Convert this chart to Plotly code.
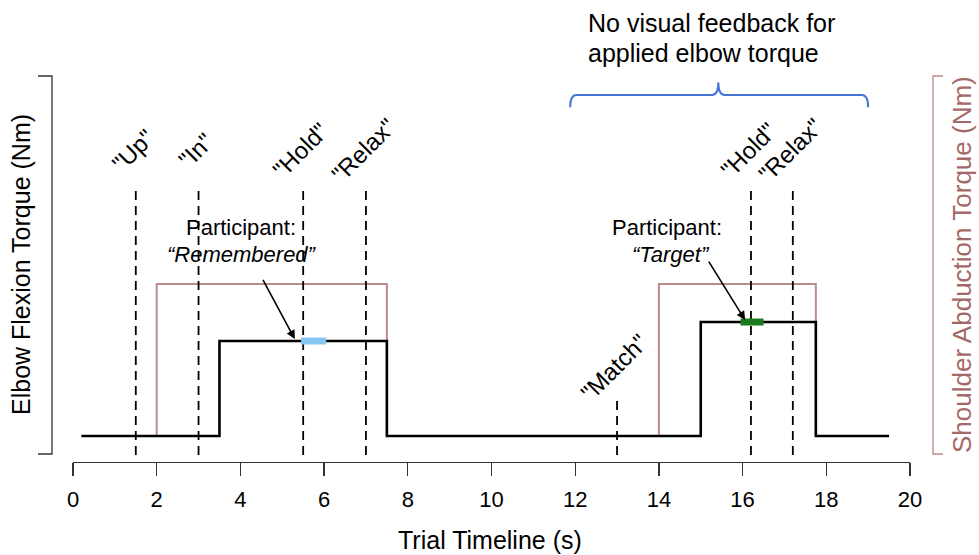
import plotly.graph_objects as go

# ---------------- data ----------------
elbow_x = [0.2, 3.5, 3.5, 7.5, 7.5, 15.0, 15.0, 17.75, 17.75, 19.5]
elbow_y = [0, 0, 5, 5, 0, 0, 6, 6, 0, 0]

shoulder1_x = [2.0, 2.0, 7.5, 7.5]
shoulder1_y = [0, 8, 8, 0]
shoulder2_x = [14.0, 14.0, 17.75, 17.75]
shoulder2_y = [0, 8, 8, 0]

remembered_x = [5.45, 6.05]
remembered_y = [5, 5]
target_x = [15.95, 16.5]
target_y = [6, 6]

event_times = [1.5, 3.0, 5.5, 7.0, 13.0, 16.2, 17.2]
event_labels = ['"Up"', '"In"', '"Hold"', '"Relax"', '"Match"', '"Hold"', '"Relax"']

x_ticks = [0, 2, 4, 6, 8, 10, 12, 14, 16, 18, 20]

# ---------------- layout helpers ----------------
W, H = 979, 555
L, R, T, B = 73, 69, 75, 93
PW, PH = W - L - R, H - T - B
YMIN, YMAX = -1.368, 19.0

def px_x(px):
    return (px - L) / PW

def px_y(py):
    return (H - B - py) / PH

FONT = "Liberation Sans, Arial, sans-serif"
ROSE = "#bb8a8a"
ROSE_TXT = "#a56868"

fig = go.Figure()

# shoulder torque (drawn below elbow)
for sx, sy in [(shoulder1_x, shoulder1_y), (shoulder2_x, shoulder2_y)]:
    fig.add_trace(go.Scatter(x=sx, y=sy, mode="lines",
                             line=dict(color=ROSE, width=2), hoverinfo="skip"))

# event dashed lines
for t, lab in zip(event_times, event_labels):
    top = 2.0 if lab == '"Match"' else 13.0
    fig.add_trace(go.Scatter(x=[t, t], y=[-1.0, top], mode="lines",
                             line=dict(color="black", width=1.8, dash="9px,6px"),
                             hoverinfo="skip"))
    ly = 3.6 if lab == '"Match"' else 15.05
    fig.add_annotation(x=t, y=ly, text=lab, showarrow=False, textangle=-45,
                       xanchor="center", yanchor="middle", xshift=-3,
                       font=dict(family=FONT, size=24, color="black"))

# elbow torque
fig.add_trace(go.Scatter(x=elbow_x, y=elbow_y, mode="lines",
                         line=dict(color="black", width=2.6), hoverinfo="skip"))

# highlighted segments
fig.add_trace(go.Scatter(x=remembered_x, y=remembered_y, mode="lines",
                         line=dict(color="#84c8f2", width=7), hoverinfo="skip"))
fig.add_trace(go.Scatter(x=target_x, y=target_y, mode="lines",
                         line=dict(color="#1b7a1b", width=7), hoverinfo="skip"))

# participant annotations
fig.add_annotation(x=4.02, y=10.95, text="Participant:", showarrow=False,
                   font=dict(family=FONT, size=22, color="black"))
fig.add_annotation(x=4.04, y=9.55, text="<i>\u201cRemembered\u201d</i>", showarrow=False,
                   font=dict(family=FONT, size=22, color="black"))
fig.add_annotation(x=14.2, y=10.95, text="Participant:", showarrow=False,
                   font=dict(family=FONT, size=22, color="black"))
fig.add_annotation(x=14.28, y=9.55, text="<i>\u201cTarget\u201d</i>", showarrow=False,
                   font=dict(family=FONT, size=22, color="black"))

# arrows
for (hx, hy, tx, ty) in [(5.3, 5.1, 4.52, 8.3), (16.06, 6.1, 15.17, 9.26)]:
    fig.add_annotation(x=hx, y=hy, ax=tx, ay=ty, axref="x", ayref="y",
                       xref="x", yref="y", text="", showarrow=True,
                       arrowhead=2, arrowsize=1.1, arrowwidth=1.6, arrowcolor="black")

# top text
fig.add_annotation(xref="paper", yref="paper", x=px_x(586), y=px_y(23),
                   text="No visual feedback for", showarrow=False,
                   xanchor="left", yanchor="middle",
                   font=dict(family=FONT, size=25, color="black"))
fig.add_annotation(xref="paper", yref="paper", x=px_x(586), y=px_y(53),
                   text="applied elbow torque", showarrow=False,
                   xanchor="left", yanchor="middle",
                   font=dict(family=FONT, size=25, color="black"))

# blue brace
bx0, bx1 = 11.88, 19.0
bxc = 15.42
yh, ye, yt = 17.95, 17.3, 18.6
d = 0.15
brace = (f"M {bx0},{ye} Q {bx0},{yh} {bx0+d},{yh} L {bxc-d},{yh} "
         f"Q {bxc},{yh} {bxc},{yt} Q {bxc},{yh} {bxc+d},{yh} "
         f"L {bx1-d},{yh} Q {bx1},{yh} {bx1},{ye}")
fig.add_shape(type="path", path=brace, xref="x", yref="y",
              line=dict(color="#4474d4", width=2))

# left axis bracket
fig.add_shape(type="path", xref="paper", yref="paper",
              path=(f"M {px_x(38)},{px_y(76)} L {px_x(52)},{px_y(76)} "
                    f"L {px_x(52)},{px_y(454)} L {px_x(38)},{px_y(454)}"),
              line=dict(color="#333333", width=1.3))
# right axis bracket
fig.add_shape(type="path", xref="paper", yref="paper",
              path=(f"M {px_x(943)},{px_y(76)} L {px_x(933)},{px_y(76)} "
                    f"L {px_x(933)},{px_y(454)} L {px_x(943)},{px_y(454)}"),
              line=dict(color=ROSE, width=1.3))

# axis titles
fig.add_annotation(xref="paper", yref="paper", x=px_x(21), y=px_y(265),
                   text="Elbow Flexion Torque (Nm)", showarrow=False, textangle=-90,
                   xanchor="center", yanchor="middle",
                   font=dict(family=FONT, size=25, color="black"))
fig.add_annotation(xref="paper", yref="paper", x=px_x(962), y=px_y(265),
                   text="Shoulder Abduction Torque (Nm)", showarrow=False, textangle=-90,
                   xanchor="center", yanchor="middle",
                   font=dict(family=FONT, size=26, color=ROSE_TXT))
fig.add_annotation(xref="paper", yref="paper", x=px_x(490), y=px_y(540),
                   text="Trial Timeline (s)", showarrow=False,
                   xanchor="center", yanchor="middle",
                   font=dict(family=FONT, size=25, color="black"))

fig.update_layout(
    width=W, height=H,
    margin=dict(l=L, r=R, t=T, b=B),
    paper_bgcolor="white", plot_bgcolor="white",
    showlegend=False,
    xaxis=dict(range=[0, 20], tickvals=x_ticks, ticktext=[str(v) for v in x_ticks],
               showline=True, linecolor="#333333", linewidth=1.3,
               ticks="outside", ticklen=13, tickwidth=1.3, tickcolor="#333333",
               ticklabelstandoff=4,
               showgrid=False, zeroline=False,
               tickfont=dict(family=FONT, size=22, color="black")),
    yaxis=dict(range=[YMIN, YMAX], visible=False, showgrid=False, zeroline=False),
)

fig.write_html("out.html",
               config={"displayModeBar": False, "staticPlot": True},
               post_script="document.body.style.margin='0';document.body.style.padding='0';"
                           "document.documentElement.style.overflow='hidden';")
